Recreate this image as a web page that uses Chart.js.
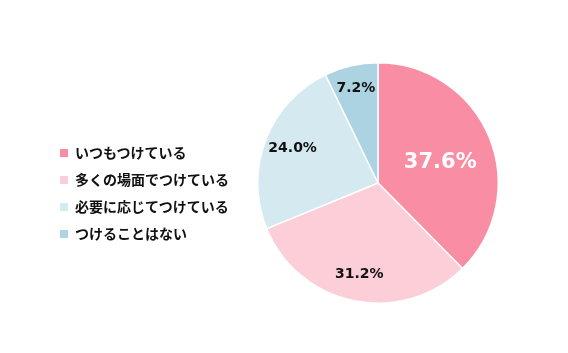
<!DOCTYPE html>
<html>
<head>
<meta charset="utf-8">
<script src="https://cdn.jsdelivr.net/npm/chart.js@4/dist/chart.umd.min.js"></script>
<style>
  html, body { margin: 0; padding: 0; background: #fff; }
  #wrap { position: relative; width: 568px; height: 353px; }
  #legend { position: absolute; left: 60px; top: 140px; font-family: "Noto Sans CJK JP", sans-serif; font-weight: bold; font-size: 14px; color: #111; }
  #legend div { height: 27px; line-height: 24px; white-space: nowrap; }
  #legend span.box { display: inline-block; width: 8px; height: 8px; margin-right: 7px; vertical-align: 1px; }
</style>
</head>
<body>
<div id="wrap">
  <canvas id="chart" width="568" height="353"></canvas>
  <div id="legend"></div>
</div>
<script>
// categories and values
let labels = ['いつもつけている', '多くの場面でつけている', '必要に応じてつけている', 'つけることはない']
let values = [37.6, 31.2, 24.0, 7.2]
let colors = ['#F98DA3', '#FBCED8', '#D5E9F0', '#ACD3E2']

// where each percentage sits: fraction of the radius, and a small vertical nudge
let labelRadius = [0.56, 0.78, 0.76, 0.82]
let labelNudge = [5, -1, -2, 1]

// building the legend on the left
let elLegend = document.getElementById('legend')
for (let i = 0; i < labels.length; i++) {
    let row = document.createElement('div')
    row.innerHTML = '<span class="box" style="background:' + colors[i] + '"></span>' + labels[i]
    elLegend.appendChild(row)
}

// plugin that writes the percentage on each slice
let sliceLabels = {
    id: 'sliceLabels',
    afterDatasetsDraw(chart) {
        let ctx = chart.ctx
        let meta = chart.getDatasetMeta(0)
        ctx.save()
        ctx.textAlign = 'center'
        ctx.textBaseline = 'middle'
        meta.data.forEach(function(arc, i) {
            let mid = (arc.startAngle + arc.endAngle) / 2
            let r = arc.outerRadius * labelRadius[i]
            let x = arc.x + Math.cos(mid) * r
            let y = arc.y + Math.sin(mid) * r + labelNudge[i]
            if (i === 0) {
                ctx.font = 'bold 21px "DejaVu Sans", sans-serif'
                ctx.fillStyle = '#fff'
            } else {
                ctx.font = 'bold 14px "DejaVu Sans", sans-serif'
                ctx.fillStyle = '#111'
            }
            ctx.fillText(values[i].toFixed(1) + '%', x, y)
        })
        ctx.restore()
    }
}

let ctx = document.getElementById('chart').getContext('2d')
new Chart(ctx, {
    type: 'pie',
    data: {
        labels: labels,
        datasets: [{
            data: values,
            backgroundColor: colors,
            borderColor: '#fff',
            borderWidth: 1.5
        }]
    },
    options: {
        responsive: false,
        animation: false,
        layout: { padding: { left: 257, right: 69, top: 61, bottom: 48 } },
        plugins: {
            legend: { display: false },
            tooltip: { enabled: false }
        }
    },
    plugins: [sliceLabels]
})
</script>
</body>
</html>
